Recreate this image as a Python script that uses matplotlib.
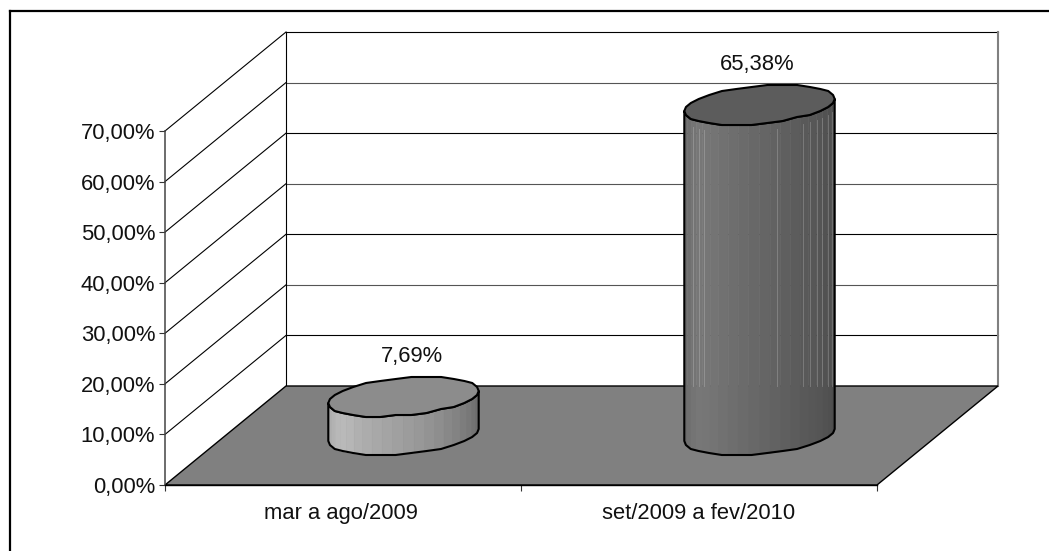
import numpy as np
import matplotlib
matplotlib.use("Agg")
import matplotlib.pyplot as plt
from matplotlib.patches import Polygon
from matplotlib.lines import Line2D

plt.rcParams["font.family"] = ["Liberation Sans", "DejaVu Sans"]

categories = ["mar a ago/2009", "set/2009 a fev/2010"]
values = [7.69, 65.38]
value_labels = ["7,69%", "65,38%"]
y_ticks = [0, 10, 20, 30, 40, 50, 60, 70]
y_tick_labels = ["0,00%", "10,00%", "20,00%", "30,00%", "40,00%", "50,00%", "60,00%", "70,00%"]

# side shading of each cylinder, left to right
side_greys = [
    ["#a6a6a6", "#adadad", "#b2b2b2", "#b8b8b8", "#b9b9b9", "#b6b6b6", "#b0b0b0", "#acacac",
     "#a8a8a8", "#a4a4a4", "#a0a0a0", "#9c9c9c", "#989898", "#939393", "#8e8e8e", "#888888",
     "#838383", "#7d7d7d", "#787878", "#727272", "#6d6d6d", "#686868"],
    ["#666666", "#6b6b6b", "#6f6f6f", "#747474", "#777777", "#767676", "#747474", "#717171",
     "#6e6e6e", "#6b6b6b", "#686868", "#656565", "#626262", "#5f5f5f", "#5c5c5c", "#595959",
     "#575757", "#555555", "#525252", "#505050", "#4d4d4d", "#4a4a4a"],
]
top_greys = ["#8c8c8c", "#5c5c5c"]
label_shift = [(8, 40), (-2, 40)]
# light seams on the tall cylinder, as a fraction of its half width
seams = [-0.88, -0.81, -0.74, 0.227, 0.573, 0.667, 0.76, 0.827, 0.907, 0.96]

W, H = 1049, 551
fig = plt.figure(figsize=(W / 100, H / 100), dpi=100, facecolor="white")

# axes box is the front plane of the 3d chart
x0, x1, y_bot, y_top = 165, 877, 485, 131
ax = fig.add_axes([x0 / W, (H - y_bot) / H, (x1 - x0) / W, (y_bot - y_top) / H])
ax.patch.set_alpha(0)
ax.set_xlim(0, 2)
ax.set_ylim(0, 70)

# depth offset of the back wall, in data units
depth_x = 121 / 356
depth_y = 99 * 70 / 354


def proj(x, y, d=0.0):
    return x + d * depth_x, y + d * depth_y


def circle_pts(cx, value, angles, snap=0.0):
    # cylinder cross section lying in the floor plane
    r = 0.2
    pts = np.array([proj(cx + r * np.cos(a), value, 0.5 + 0.2 * np.sin(a)) for a in angles])
    if snap:
        # snapping the vertices to a pixel grid gives the wavy outline
        px = ax.transData.transform(pts)
        px[:, 1] = np.round(px[:, 1] / snap) * snap
        pts = ax.transData.inverted().transform(px)
    return pts


def line(xs, ys, color="black", lw=0.8, z=1, **kw):
    ax.add_line(Line2D(xs, ys, color=color, lw=lw, zorder=z, clip_on=False, **kw))


# walls and gridlines
for i, t in enumerate(y_ticks):
    col = "black" if (len(y_ticks) - 1 - i) % 2 == 0 else "#555555"
    if t > 0:
        a = proj(0, t)
        b = proj(0, t, 1)
        c = proj(2, t, 1)
        line([a[0], b[0]], [a[1], b[1]], z=1)
        line([b[0], c[0]], [b[1], c[1]], color=col, z=1)
b0 = proj(0, 0, 1)
b1 = proj(0, 70, 1)
line([b0[0], b1[0]], [b0[1], b1[1]], z=1.1)
r0 = proj(2, 0, 1)
r1 = proj(2, 70, 1)
line([r0[0], r1[0]], [r0[1], r1[1]], color="#808080", lw=1.5, z=1.1)

# floor
floor = [proj(0, 0), proj(2, 0), proj(2, 0, 1), proj(0, 0, 1)]
ax.add_patch(Polygon(floor, closed=True, facecolor="#808080", edgecolor="black",
                     lw=1.0, zorder=2, clip_on=False))

# cylinders
t_left = np.deg2rad(198.7)
n_seg = 22
n_edge = 15
strip_angles = np.linspace(t_left, t_left + np.pi, n_seg + 1)
edge_angles = np.linspace(t_left, t_left + np.pi, n_edge + 1)
ring_angles = np.linspace(t_left, t_left + 2 * np.pi, 2 * n_edge + 1)[:-1]

for i, v in enumerate(values):
    cx = i + 0.5
    low = circle_pts(cx, 0, strip_angles)
    up = circle_pts(cx, v, strip_angles)
    for k in range(n_seg):
        quad = [low[k], low[k + 1], up[k + 1], up[k]]
        ax.add_patch(Polygon(quad, closed=True, facecolor=side_greys[i][k],
                             edgecolor=side_greys[i][k], lw=0.4, zorder=3, clip_on=False))
    low_edge = circle_pts(cx, 0, edge_angles, snap=2.0)
    up_edge = circle_pts(cx, v, edge_angles, snap=2.0)
    outline = np.vstack([low_edge, up_edge[::-1], low_edge[:1]])
    ax.add_patch(Polygon(outline, closed=True, fill=False, edgecolor="black", lw=1.5,
                         joinstyle="round", zorder=4, clip_on=False))
    top = circle_pts(cx, v, ring_angles, snap=2.0)
    ax.add_patch(Polygon(top, closed=True, facecolor=top_greys[i], edgecolor="black", lw=1.5,
                         joinstyle="round", zorder=5, clip_on=False))
    ax.annotate(value_labels[i], proj(cx, v, 0.5), xytext=label_shift[i],
                textcoords="offset pixels", ha="center", va="center", fontsize=15.8,
                color="#111111", annotation_clip=False, zorder=6)

    if i == 1:
        x_mid = proj(cx, 0, 0.5)[0]
        half = (up[:, 0].max() - up[:, 0].min()) / 2
        floor_back = proj(0, 0, 1)[1]
        for s in seams:
            sx = x_mid + s * half
            sy = np.interp(sx, up[:, 0], up[:, 1])
            line([sx, sx], [floor_back, sy - 1.5], color="white", lw=0.7, z=3.5, alpha=0.2)

# axes: spines, ticks and labels
for side in ["top", "right"]:
    ax.spines[side].set_visible(False)
ax.spines["left"].set_color("#444444")
ax.spines["left"].set_linewidth(1.1)
ax.spines["bottom"].set_color("black")
ax.spines["bottom"].set_linewidth(1.0)
ax.spines["left"].set_zorder(7)
ax.spines["bottom"].set_zorder(7)

ax.set_yticks(y_ticks)
ax.set_yticklabels(y_tick_labels, fontsize=15.8, color="#111111")
ax.tick_params(axis="y", length=4.5, width=0.8, pad=2.5, color="#333333")
ax.set_xticks([0, 1, 2])
ax.set_xticklabels([])
ax.tick_params(axis="x", length=4.5, width=0.8, color="#333333")
ax.set_xticks([0.494, 1.5], minor=True)
ax.set_xticklabels(categories, minor=True, fontsize=15.8, color="#111111")
ax.tick_params(axis="x", which="minor", length=0, pad=13)

# chart border, only the top and left edges fall inside the image
fig.add_artist(Line2D([9.5 / W, 9.5 / W], [0, (H - 11) / H], color="black", lw=1.6))
fig.add_artist(Line2D([9.5 / W, 1], [(H - 11) / H, (H - 11) / H], color="black", lw=1.6))

fig.savefig("out.png", dpi=100)
